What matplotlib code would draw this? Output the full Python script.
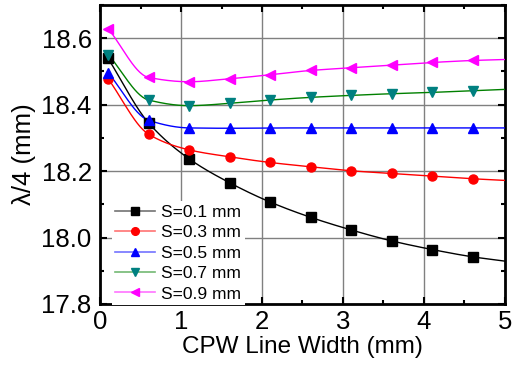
import matplotlib
matplotlib.use("Agg")
import matplotlib.pyplot as plt
import numpy as np
from matplotlib.ticker import MultipleLocator
from matplotlib.lines import Line2D
from matplotlib.colors import to_rgba

plt.rcParams['font.family'] = ['Liberation Sans', 'DejaVu Sans']

# line width samples (mm) and end of the drawn curve
width = [0.1, 0.6, 1.1, 1.6, 2.1, 2.6, 3.1, 3.6, 4.1, 4.6]
x_end = 5.0

s01 = [18.539, 18.345, 18.237, 18.165, 18.107, 18.061, 18.023, 17.990, 17.964, 17.942]
s03 = [18.478, 18.311, 18.264, 18.243, 18.226, 18.213, 18.201, 18.193, 18.185, 18.177]
s05 = [18.496, 18.353, 18.330, 18.329, 18.330, 18.330, 18.330, 18.330, 18.330, 18.330]
s07 = [18.551, 18.414, 18.397, 18.404, 18.414, 18.422, 18.428, 18.433, 18.437, 18.442]
s09 = [18.629, 18.482, 18.469, 18.478, 18.490, 18.503, 18.511, 18.519, 18.527, 18.533]
# curve values at x = 5
end_vals = [17.929, 18.172, 18.330, 18.446, 18.536]

labels = ["S=0.1 mm", "S=0.3 mm", "S=0.5 mm", "S=0.7 mm", "S=0.9 mm"]
series = [s01, s03, s05, s07, s09]
line_cols = ["black", "red", "blue", "green", "magenta"]
mark_cols = ["black", "red", "blue", "teal", "magenta"]
markers = ["s", "o", "^", "v", "<"]


def pchip(x, y, xs):
    # monotone cubic connection between the points
    x = np.asarray(x, float)
    y = np.asarray(y, float)
    h = np.diff(x)
    d = np.diff(y) / h
    m = np.zeros_like(y)
    for k in range(1, len(y) - 1):
        if d[k - 1] * d[k] > 0:
            w1 = 2 * h[k] + h[k - 1]
            w2 = h[k] + 2 * h[k - 1]
            m[k] = (w1 + w2) / (w1 / d[k - 1] + w2 / d[k])
    m[0] = d[0]
    m[-1] = d[-1]
    idx = np.clip(np.searchsorted(x, xs) - 1, 0, len(x) - 2)
    t = (xs - x[idx]) / h[idx]
    h00 = 2 * t**3 - 3 * t**2 + 1
    h10 = t**3 - 2 * t**2 + t
    h01 = -2 * t**3 + 3 * t**2
    h11 = t**3 - t**2
    return h00 * y[idx] + h10 * h[idx] * m[idx] + h01 * y[idx + 1] + h11 * h[idx] * m[idx + 1]


fig = plt.figure(figsize=(5.22, 3.66), dpi=100)
ax = fig.add_axes([0.1916, 0.1694, 0.7758, 0.8169])

handles = []
for vals, ev, lab, lc, mc, mk in zip(series, end_vals, labels, line_cols, mark_cols, markers):
    xx = width + [x_end]
    yy = vals + [ev]
    xs = np.linspace(width[0], x_end, 300)
    ax.plot(xs, pchip(xx, yy, xs), color=lc, lw=1.0, zorder=3)
    ax.plot(width, vals, ls="none", marker=mk, color=mc, ms=6.5, zorder=4)
    handles.append(Line2D([], [], color=to_rgba(lc, 0.55), lw=1.2, marker=mk,
                          mfc=mc, mec=mc, ms=6.5, label=lab))

ax.set_xlim(0, 5)
ax.set_ylim(17.8, 18.7)
ax.xaxis.set_major_locator(MultipleLocator(1))
ax.xaxis.set_minor_locator(MultipleLocator(0.5))
ax.yaxis.set_minor_locator(MultipleLocator(0.1))
ax.set_yticks([17.8, 18.0, 18.2, 18.4, 18.6])
ax.set_yticklabels(["17.8", "18.0", "18.2", "18.4", "18.6"])
ax.grid(True, which="major", color="#808080", lw=1.0)
ax.tick_params(which="both", direction="in", top=True, right=True, labelsize=18.5, width=1.5)
ax.tick_params(axis="y", pad=6)
ax.tick_params(axis="x", pad=4)
ax.tick_params(which="major", length=5)
ax.tick_params(which="minor", length=3)
for sp in ax.spines.values():
    sp.set_linewidth(2)

ax.set_xlabel("CPW Line Width (mm)", fontsize=17.5, labelpad=2)
ax.set_ylabel("λ/4 (mm)", fontsize=18.5, labelpad=4)

leg = ax.legend(handles=handles, loc="lower left", bbox_to_anchor=(0.02, -0.015), frameon=True,
                fontsize=12.5, markerscale=0.85, handlelength=2.3, handletextpad=0.35,
                labelspacing=0.3, borderaxespad=0.2, borderpad=0.2, fancybox=False)
leg.get_frame().set_facecolor("white")
leg.get_frame().set_edgecolor("none")
leg.get_frame().set_alpha(1.0)
leg.set_zorder(5)

fig.savefig("out.png", dpi=100)
